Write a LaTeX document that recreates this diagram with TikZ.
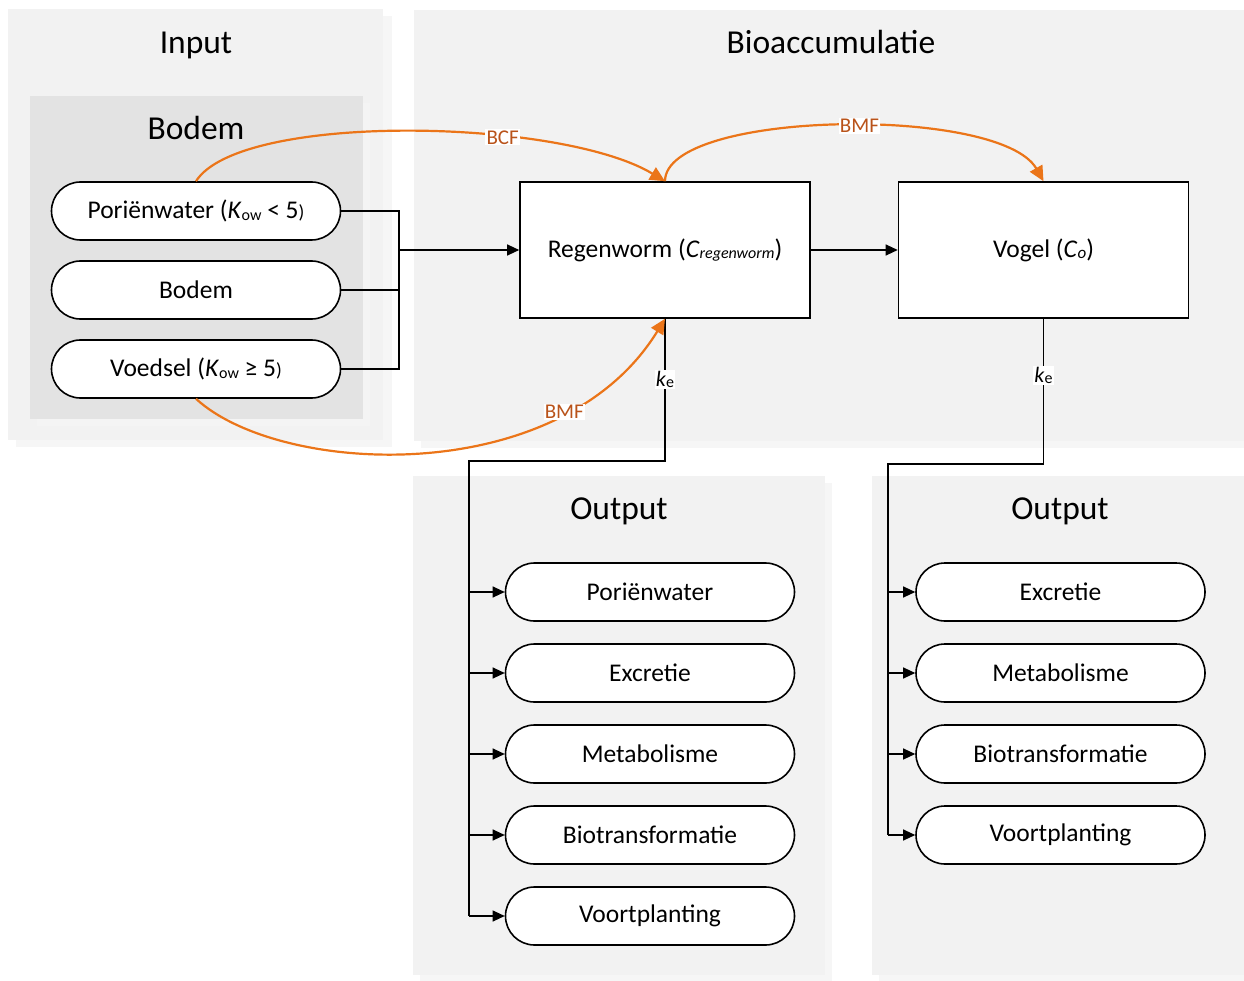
\documentclass[tikz,border=0pt]{standalone}
\usepackage{fontspec}
\setmainfont{Carlito}
\usetikzlibrary{arrows.meta}

\definecolor{panel}{HTML}{F2F2F2}
\definecolor{panelsh}{HTML}{F6F6F6}
\definecolor{soil}{HTML}{E3E3E3}
\definecolor{soilsh}{HTML}{F4F4F4}
\definecolor{flow}{HTML}{EB7519}
\definecolor{flowtxt}{HTML}{B9531A}

\newcommand\fsz[1]{\fontsize{#1}{#1}\selectfont}
\newcommand\lowsub[2][16]{\raisebox{-1.5pt}{\fsz{#1}#2}}

\tikzset{
  pill/.style={draw, line width=1.6pt, fill=white, rounded corners=29pt,
    minimum width=289pt, minimum height=58pt, inner sep=0pt, font=\fsz{25.5}},
  organism/.style={draw, line width=1.6pt, fill=white,
    minimum width=290pt, minimum height=136pt, inner sep=0pt, font=\fsz{25.5}},
  heading/.style={font=\fsz{33.5}, inner sep=0pt, anchor=base},
  wire/.style={line width=1.1pt},
  wirearrow/.style={wire, -{Triangle[length=12pt,width=11pt]}},
  transfer/.style={draw=flow, line width=2.2pt, -{Triangle[length=15pt,width=14pt]}, flow},
  factor/.style={fill=white, inner sep=1.2pt, text=flowtxt, font=\fsz{21}},
  rate/.style={fill=white, inner sep=1.2pt, font=\fsz{22}},
}

\begin{document}
\begin{tikzpicture}[x=1pt,y=-1pt]
\useasboundingbox (0,0) rectangle (1244,981);

% grey panels with their offset shadows
\fill[panelsh] (16,16) rectangle (392,447);
\fill[panel] (8,9) rectangle (383,440);
\fill[soilsh] (37,103) rectangle (370,426);
\fill[soil] (30,96) rectangle (363,419);

\fill[panelsh] (421,17) rectangle (1244,448);
\fill[panel] (414,10) rectangle (1244,441);

\fill[panelsh] (420,483) rectangle (832,981);
\fill[panel] (413,476) rectangle (825,975);

\fill[panelsh] (879,483) rectangle (1244,981);
\fill[panel] (872,476) rectangle (1244,975);

% headings (placed by their baselines)
\node[heading] (hin) at (196,54) {Input};
\node[heading] (hsoil) at (196,140) {Bodem};
\node[heading] (hbio) at (831,54) {Bioaccumulatie};
\node[heading] (hout1) at (619,519) {Output};
\node[heading] (hout2) at (1060,519) {Output};

% input compartments
\node[pill] (pw) at (196,211) {Poriënwater (\textit{K}\lowsub{ow} < 5{\fsz{19})}};
\node[pill] (soilin) at (196,290) {Bodem};
\node[pill] (food) at (196,369) {Voedsel (\textit{K}\lowsub{ow} ≥ 5{\fsz{19})}};

% organisms
\node[organism] (worm) at (665,250) {Regenworm (\textit{C}\lowsub[16]{\textit{regenworm}})};
\node[organism] (bird) at (1043.5,250) {Vogel (\textit{C}\lowsub[17]{\textit{o}})};

% output compartments of the earthworm
\node[pill] (w1) at (650,592) {Poriënwater};
\node[pill] (w2) at (650,673) {Excretie};
\node[pill] (w3) at (650,754) {Metabolisme};
\node[pill] (w4) at (650,835) {Biotransformatie};
\node[pill] (w5) at (650,916) {Voortplanting};

% output compartments of the bird
\node[pill] (b1) at (1060.5,592) {Excretie};
\node[pill] (b2) at (1060.5,673) {Metabolisme};
\node[pill] (b3) at (1060.5,754) {Biotransformatie};
\node[pill] (b4) at (1060.5,835) {Voortplanting};

% uptake from the soil
\coordinate (join) at (399,250);
\draw[wire] (pw.east) -| (join);
\draw[wire] (food.east) -| (join);
\draw[wire] (soilin.east) -- (soilin.east -| join);
\draw[wirearrow] (join) -- (worm.west);
\draw[wirearrow] (worm.east) -- (bird.west);

% elimination from the earthworm
\coordinate (wturn) at (665,461);
\coordinate (wbus) at (469,461);
\draw[wire] (worm.south) -- node[rate, pos=0.427] (kw) {\textit{k}\lowsub[16]{e}} (wturn) -- (wbus) -- (wbus |- w5.west);
\foreach \o in {w1,w2,w3,w4,w5}
  \draw[wirearrow] (wbus |- \o.west) -- (\o.west);

% elimination from the bird
\coordinate (bturn) at (1043.5,464);
\coordinate (bbus) at (888,464);
\draw[wire] (bird.south) -- node[rate, pos=0.39] (kb) {\textit{k}\lowsub[16]{e}} (bturn) -- (bbus) -- (bbus |- b4.west);
\foreach \o in {b1,b2,b3,b4}
  \draw[wirearrow] (bbus |- \o.west) -- (\o.west);

% transfer factors
\draw[transfer] (pw.north) .. controls (240,112) and (560,118) .. node[factor, pos=0.66] (bcf) {BCF} (worm.north);
\draw[transfer] (worm.north) .. controls (665,110) and (1000,105) .. node[factor, pos=0.54] (bmf1) {BMF} (bird.north);
\draw[transfer] (food.south) .. controls (280,476) and (560,490) .. node[factor, pos=0.76] (bmf2) {BMF} (worm.south);
\end{tikzpicture}
\end{document}
